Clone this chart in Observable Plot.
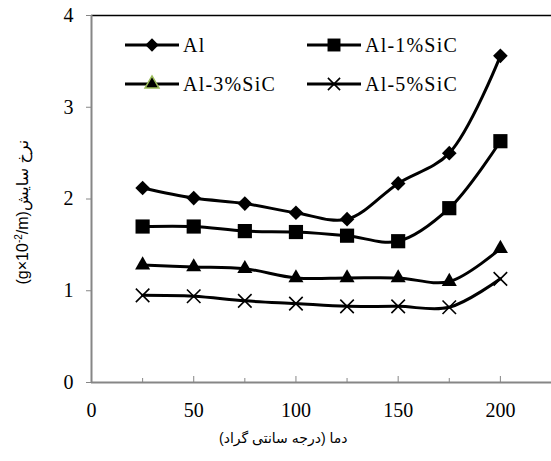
<!DOCTYPE html>
<html>
<head>
<meta charset="utf-8">
<script src="https://cdn.jsdelivr.net/npm/d3@7"></script>
<script src="https://cdn.jsdelivr.net/npm/@observablehq/plot@0.6"></script>
</head>
<body style="margin:0;padding:0;background:#fff">
<div id="wrap" style="position:relative;width:551px;height:461px"></div>
<script>
// Data
const temps = [25, 50, 75, 100, 125, 150, 175, 200];
const seriesNames = ["Al", "Al-1%SiC", "Al-3%SiC", "Al-5%SiC"];
const al     = [2.12, 2.01, 1.95, 1.85, 1.78, 2.17, 2.50, 3.56];
const al1sic = [1.70, 1.70, 1.65, 1.64, 1.60, 1.54, 1.90, 2.63];
const al3sic = [1.28, 1.26, 1.24, 1.14, 1.14, 1.14, 1.10, 1.46];
const al5sic = [0.95, 0.94, 0.89, 0.86, 0.83, 0.83, 0.82, 1.13];
const xTicks = [0, 50, 100, 150, 200];
const xMinorTicks = [25, 75, 125, 175];
const yTicks = [0, 1, 2, 3, 4];
const xTitle = "دما (درجه سانتی گراد)";
const yTitleLatin = ["(g×10", "-2", "/m)"];
const yTitlePersian = "نرخ سایش";

const SERIF = "'Liberation Serif'";
const SANS = "'Liberation Sans', 'DejaVu Sans'";

const seriesValues = [al, al1sic, al3sic, al5sic];
const symbols = ["diamond2", "square", "triangle", "times"];
const radii = [6.6, 8, 5.6, 6.2];

const data = [];
seriesNames.forEach((name, i) => {
  temps.forEach((t, j) => data.push({series: name, temp: t, value: seriesValues[i][j]}));
});

const marks = [
  Plot.ruleY([4], {stroke: "#000", strokeWidth: 1.5}),
  Plot.ruleX([0], {stroke: "#868686", strokeWidth: 2}),
  Plot.ruleY([0], {stroke: "#868686", strokeWidth: 2}),
  Plot.axisY({ticks: yTicks, tickSize: 5, tickPadding: 13, stroke: "#868686", label: null, tickFormat: d3.format("d")}),
  Plot.axisX({ticks: xTicks, tickSize: 0, tickPadding: 20, label: null, tickFormat: d3.format("d")}),
  Plot.axisX({ticks: xTicks, anchor: "bottom", tickSize: -6, stroke: "#868686", tickFormat: () => "", label: null}),
  Plot.axisX({ticks: xMinorTicks, anchor: "bottom", tickSize: -4, stroke: "#868686", tickFormat: () => "", label: null}),
  Plot.line(data, {x: "temp", y: "value", z: "series", stroke: "#000", strokeWidth: 3, curve: "catmull-rom"}),
];
seriesNames.forEach((name, i) => {
  const sub = data.filter(d => d.series === name);
  if (symbols[i] === "times") {
    marks.push(Plot.dot(sub, {x: "temp", y: "value", symbol: "times", r: radii[i], stroke: "#000", strokeWidth: 1.6}));
  } else {
    marks.push(Plot.dot(sub, {x: "temp", y: "value", symbol: symbols[i], r: radii[i], fill: "#000", stroke: "none"}));
  }
});

const chart = Plot.plot({
  width: 551,
  height: 461,
  marginLeft: 91,
  marginRight: 0,
  marginTop: 15,
  marginBottom: 79,
  x: {domain: [0, 225]},
  y: {domain: [0, 4]},
  style: {background: "#fff", overflow: "visible", color: "#000", fontFamily: SERIF, fontSize: "20px"},
  marks
});
d3.select(chart).selectAll("text").style("font-family", SERIF).style("font-size", "20px").attr("fill", "#000");
const wrap = document.getElementById("wrap");
wrap.appendChild(chart);

// Axis titles
const xt = document.createElement("div");
xt.style.cssText = `position:absolute;font-family:${SANS};font-size:14px;color:#000;white-space:nowrap;line-height:18px`;
xt.textContent = xTitle;
wrap.appendChild(xt);
xt.style.left = (283 - xt.offsetWidth / 2) + "px";
xt.style.top = (438 - xt.offsetHeight / 2) + "px";

const yt = document.createElement("div");
yt.style.cssText = `position:absolute;font-family:${SANS};font-size:16px;color:#000;white-space:nowrap;line-height:20px`;
const l1 = document.createElement("span"); l1.textContent = yTitleLatin[0];
const sup = document.createElement("sup"); sup.textContent = yTitleLatin[1]; sup.style.fontSize = "10px";
const l2 = document.createElement("span"); l2.textContent = yTitleLatin[2];
const p1 = document.createElement("span"); p1.textContent = yTitlePersian; p1.style.unicodeBidi = "isolate"; p1.dir = "rtl";
[l1, sup, l2, p1].forEach(e => yt.appendChild(e));
wrap.appendChild(yt);
const yw = yt.offsetWidth, yh = yt.offsetHeight;
yt.style.left = (21 - yw / 2) + "px";
yt.style.top = (212 - yh / 2) + "px";
yt.style.transform = "rotate(-90deg)";

// Legend (HTML overlay)
const legendPos = [[125, 45], [307, 45], [125, 84], [307, 84]];
const legendR = [6, 7.3, 5.2, 5.6];
const symMap = {diamond2: d3.symbolDiamond2, square: d3.symbolSquare, triangle: d3.symbolTriangle, times: d3.symbolTimes};
seriesNames.forEach((name, i) => {
  const div = document.createElement("div");
  div.style.cssText = `position:absolute;display:flex;align-items:center;left:${legendPos[i][0]}px;top:${legendPos[i][1] - 14}px;height:28px;white-space:nowrap`;
  const w = 54, h = 28;
  const svg = d3.create("svg").attr("width", w).attr("height", h).style("display", "block").style("margin-right", "4px");
  svg.append("line").attr("x1", 0).attr("x2", w).attr("y1", h/2).attr("y2", h/2).attr("stroke", "#000").attr("stroke-width", 3);
  const path = d3.symbol(symMap[symbols[i]], legendR[i] * legendR[i] * Math.PI)();
  const p = svg.append("path").attr("d", path).attr("transform", `translate(${w/2},${h/2})`);
  if (symbols[i] === "times") p.attr("fill", "none").attr("stroke", "#000").attr("stroke-width", 1.6);
  else if (symbols[i] === "triangle") p.attr("fill", "#000").attr("stroke", "#9BBB59").attr("stroke-width", 1.5);
  else p.attr("fill", "#000");
  div.appendChild(svg.node());
  const span = document.createElement("span");
  span.textContent = name;
  span.style.cssText = `font-family:${SERIF};font-size:20px;letter-spacing:1.2px;color:#000`;
  div.appendChild(span);
  wrap.appendChild(div);
});
</script>
</body>
</html>
